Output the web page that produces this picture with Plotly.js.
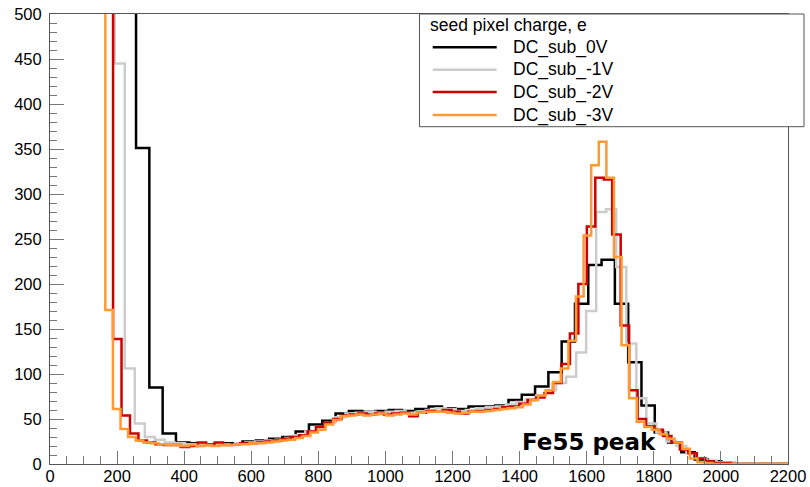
<!DOCTYPE html>
<html>
<head>
<meta charset="utf-8">
<script src="https://cdn.plot.ly/plotly-3.0.1.min.js"></script>
<style>html,body{margin:0;padding:0;background:#fff;}#chart{width:810px;height:487px;}</style>
</head>
<body>
<div id="chart"></div>
<script>
// ---------- DATA ----------
const seriesNames = ["DC_sub_0V", "DC_sub_-1V", "DC_sub_-2V", "DC_sub_-3V"];
const legendTitle = "seed pixel charge, e";
const annotationText = "Fe55 peak";
const xTickValues = [0, 200, 400, 600, 800, 1000, 1200, 1400, 1600, 1800, 2000, 2200];
const yTickValues = [0, 50, 100, 150, 200, 250, 300, 350, 400, 450, 500];

// histogram binning (in e) for each series
const blackFirstEdge = 216.85, blackBinWidth = 39.65;
const greyFirstEdge = 163.1, greyBinWidth = 29.9;
const redFirstEdge = 162.78, redBinWidth = 25.22;
const orangeFirstEdge = 142.37, orangeBinWidth = 22.63;

// bin contents (first bin is off-scale, above 500)
const blackCounts = [1500, 351, 85, 34, 24, 23, 22, 23, 23, 25, 26, 28, 30, 36, 44, 48, 56, 59, 58, 59,
  60, 59, 61, 64, 62, 61, 64, 64, 65, 71, 77, 86, 102, 136, 178, 221, 227, 178, 113, 65,
  35, 24, 13, 5, 3, 1, 0, 0, 0, 0];
const greyCounts = [1500, 445, 106, 45, 30, 27, 24, 23, 22, 22, 21, 22, 22, 23, 24, 25, 26, 27, 29, 32,
  36, 41, 46, 52, 56, 57, 58, 57, 58, 59, 57, 58, 60, 62, 61, 59, 60, 62, 63, 64,
  66, 69, 72, 76, 82, 90, 97, 124, 170, 280, 283, 219, 134, 73, 45, 35, 25, 20, 12, 7,
  4, 2, 1, 0, 0, 0, 0, 0, 0];
const redCounts = [1500, 139, 54, 34, 26, 24, 22, 21, 21, 19, 20, 24, 21, 24, 21, 22, 23, 23, 24, 25,
  26, 28, 30, 32, 36, 41, 46, 50, 54, 55, 56, 55, 56, 55, 56, 57, 53, 57, 59, 58,
  60, 58, 56, 58, 59, 60, 61, 63, 64, 67, 71, 74, 79, 90, 111, 145, 200, 264, 318, 316,
  255, 154, 82, 50, 42, 38, 31, 24, 16, 12, 6, 3, 1, 1, 0, 0, 0, 0, 0, 0, 0];
const orangeCounts = [1500, 171, 61, 39, 30, 26, 24, 23, 22, 21, 21, 20, 21, 20, 21, 20, 21, 21, 22, 22,
  23, 23, 24, 25, 26, 27, 29, 31, 35, 38, 44, 49, 53, 54, 55, 54, 55, 56, 54, 55,
  56, 55, 57, 58, 58, 58, 57, 56, 57, 58, 58, 59, 60, 61, 62, 63, 66, 71, 76, 82,
  91, 106, 137, 186, 254, 332, 358, 318, 230, 132, 73, 47, 41, 38, 33, 28, 24, 17, 6, 2,
  1, 0, 0, 0, 0, 0, 0, 0, 0, 0, 0];

// ---------- BUILD ----------
function histTrace(first, width, counts, color) {
  const x = [], y = [];
  for (let i = 0; i < counts.length; i++) { x.push(first + width * i); y.push(counts[i]); }
  x.push(first + width * counts.length); y.push(counts[counts.length - 1]);
  return {x: x, y: y, type: 'scatter', mode: 'lines', line: {shape: 'hv', color: color, width: 2.5},
          hoverinfo: 'skip', showlegend: false};
}
const colors = ['#000000', '#cccccc', '#cc0000', '#ff9933'];
const traces = [
  histTrace(blackFirstEdge, blackBinWidth, blackCounts, colors[0]),
  histTrace(greyFirstEdge, greyBinWidth, greyCounts, colors[1]),
  histTrace(redFirstEdge, redBinWidth, redCounts, colors[2]),
  histTrace(orangeFirstEdge, orangeBinWidth, orangeCounts, colors[3])
];

// plot area in pixels (for the hand-built ROOT style legend)
const L = 50, R = 788, T = 14, B = 464;
const px = v => (v - L) / (R - L);
const py = v => (B - v) / (B - T);

const shapes = [{type: 'rect', xref: 'paper', yref: 'paper', x0: px(419.5), x1: px(804), y0: py(126.7), y1: py(14),
  line: {color: '#555555', width: 1}, fillcolor: '#ffffff', layer: 'above'}];
const annotations = [{xref: 'paper', yref: 'paper', x: px(428), y: py(25), xanchor: 'left', yanchor: 'middle',
  text: legendTitle, showarrow: false, font: {family: 'Liberation Sans, Arial, sans-serif', size: 17.5, color: '#000'}}];
const legendRows = [47.3, 69.7, 92, 115];
for (let i = 0; i < 4; i++) {
  shapes.push({type: 'line', xref: 'paper', yref: 'paper', x0: px(432.7), x1: px(496.7), y0: py(legendRows[i]), y1: py(legendRows[i]),
    line: {color: colors[i], width: 2.5}, layer: 'above'});
  annotations.push({xref: 'paper', yref: 'paper', x: px(511), y: py(legendRows[i]), xanchor: 'left', yanchor: 'middle',
    text: seriesNames[i], showarrow: false, font: {family: 'Liberation Sans, Arial, sans-serif', size: 17.5, color: '#000'}});
}
annotations.push({xref: 'x', yref: 'y', x: 1606, y: 25, xanchor: 'center', yanchor: 'middle', text: '<b>' + annotationText + '</b>',
  showarrow: false, font: {family: 'DejaVu Sans, sans-serif', size: 23, color: '#000'}});

const axisFont = {family: 'Liberation Sans, Arial, sans-serif', size: 16.5, color: '#000'};
const layout = {
  width: 810, height: 487,
  margin: {l: L, r: 810 - R, t: T, b: 487 - B, pad: 0},
  paper_bgcolor: '#fff', plot_bgcolor: '#fff',
  xaxis: {range: [0, 2200], tickvals: xTickValues, ticktext: xTickValues.map(String), ticks: 'inside', ticklen: 13, tickwidth: 1,
    tickcolor: '#777', showline: true, mirror: true, linecolor: '#555', linewidth: 1, showgrid: false, zeroline: false,
    tickfont: axisFont, ticklabelstandoff: -3,
    minor: {dtick: 50, tick0: 0, ticks: 'inside', ticklen: 8, tickcolor: '#777', showgrid: false}},
  yaxis: {range: [0, 500], tickvals: yTickValues, ticktext: yTickValues.map(String), ticks: 'inside', ticklen: 14, tickwidth: 1,
    tickcolor: '#777', showline: true, mirror: true, linecolor: '#555', linewidth: 1, showgrid: false, zeroline: false,
    tickfont: axisFont, ticklabelstandoff: 4,
    minor: {dtick: 10, tick0: 0, ticks: 'inside', ticklen: 7, tickcolor: '#777', showgrid: false}},
  shapes: shapes,
  annotations: annotations,
  showlegend: false
};
Plotly.newPlot('chart', traces, layout, {displayModeBar: false, staticPlot: true});
</script>
</body>
</html>
